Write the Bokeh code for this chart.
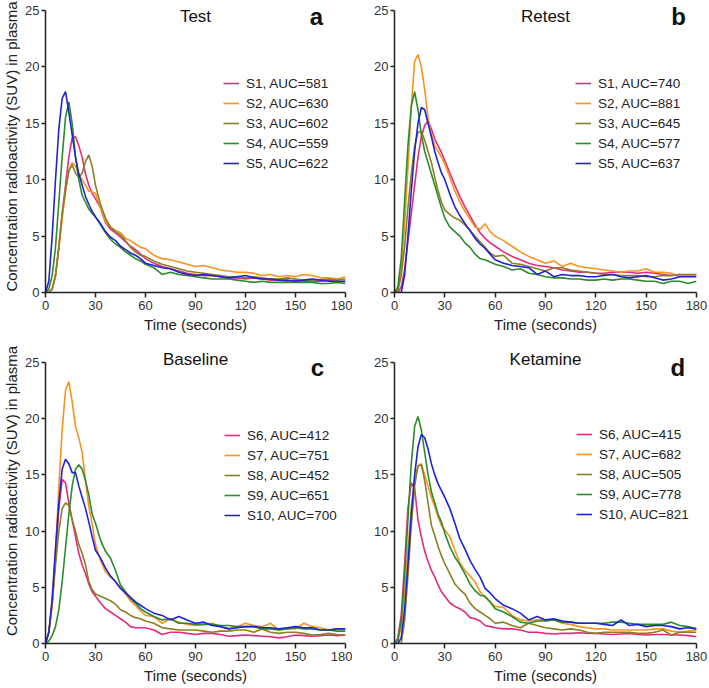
from bokeh.plotting import figure
from bokeh.layouts import column, row
from bokeh.models import Legend, LegendItem, Label, Range1d, FixedTicker
from bokeh.embed import file_html
from bokeh.resources import INLINE

# ---------------- data ----------------
time = [0, 2, 4, 6, 8, 10, 12, 14, 16, 18, 20, 22, 24, 26, 28, 30,
        33, 36, 39, 42, 45, 48, 51, 54, 57, 60,
        65, 70, 75, 80, 85, 90, 95, 100, 105, 110, 115, 120, 125, 130,
        135, 140, 145, 150, 155, 160, 165, 170, 175, 180]

x_ticks = [0, 30, 60, 90, 120, 150, 180]
y_ticks = [0, 5, 10, 15, 20, 25]

# Panel a: Test
test_names = ["S1", "S2", "S3", "S4", "S5"]
test_auc = [581, 630, 602, 559, 622]
test_s1 = [0, 0, 0.3, 1.5, 4, 7, 9.5, 12, 13.7, 13.8, 13, 12, 10.5, 9.5, 8.8, 8.3,
           7.5, 6.2, 5.6, 5.3, 4.9, 4.5, 4.1, 3.8, 3.4, 3.0,
           2.6, 2.3, 2.1, 1.9, 1.7, 1.6, 1.5, 1.5, 1.4, 1.3, 1.3, 1.2, 1.3, 1.2, 1.1, 1.1, 1.0, 1.1, 1.0, 1.0, 1.0, 1.1, 0.9, 1.0]
test_s2 = [0, 0, 0.3, 1.5, 4, 6.5, 9, 10.8, 11.5, 11.2, 10.5, 10, 9.5, 9, 8.9, 8.8,
           7.5, 6.3, 5.8, 5.5, 5.3, 4.8, 4.6, 4.3, 4.0, 3.9,
           3.3, 3.0, 2.9, 2.7, 2.5, 2.3, 2.4, 2.2, 2.0, 1.9, 1.8, 1.8, 1.7, 1.5, 1.6, 1.4, 1.5, 1.4, 1.6, 1.5, 1.3, 1.3, 1.2, 1.4]
test_s3 = [0, 0, 0.3, 1.5, 4, 7, 9, 10.8, 11.3, 10.6, 10.2, 10.6, 11.6, 12.2, 11.2, 9.5,
           7.8, 6.6, 5.8, 5.4, 5.1, 4.6, 4.0, 3.6, 3.3, 3.2,
           2.8, 2.5, 2.3, 2.1, 1.9, 1.8, 1.7, 1.6, 1.5, 1.4, 1.4, 1.3, 1.4, 1.3, 1.2, 1.2, 1.3, 1.2, 1.1, 1.1, 1.1, 1.2, 1.1, 1.2]
test_s4 = [0, 0.3, 1.5, 4, 8, 12, 15.5, 16.9, 15, 12, 10, 8.6, 8.0, 7.4, 7.0, 6.7,
           6.0, 5.3, 4.7, 4.3, 4.0, 3.6, 3.3, 3.0, 2.8, 2.5,
           2.2, 1.6, 1.8, 1.6, 1.5, 1.4, 1.3, 1.2, 1.2, 1.2, 1.1, 1.0, 0.9, 1.0, 0.9, 0.9, 0.9, 0.9, 0.9, 0.9, 0.8, 0.8, 0.9, 0.8]
test_s5 = [0, 1, 5, 10, 14.5, 17.2, 17.8, 16, 14, 12, 10.5, 9.5, 8.5, 7.8, 7.2, 6.7,
           6.1, 5.4, 4.9, 4.6, 4.1, 3.8, 3.5, 3.3, 3.0, 2.6,
           2.4, 2.2, 2.1, 1.8, 1.6, 1.5, 1.6, 1.5, 1.4, 1.3, 1.4, 1.5, 1.3, 1.2, 1.2, 1.1, 1.1, 1.0, 1.1, 1.2, 1.1, 1.0, 1.0, 1.0]

# Panel b: Retest
retest_names = ["S1", "S2", "S3", "S4", "S5"]
retest_auc = [740, 881, 645, 577, 637]
retest_s1 = [0, 0, 0.5, 2, 4.5, 7, 9.5, 12, 13.8, 14.8, 15.2, 14.5, 13.6, 13, 12.4, 11.7,
             10.6, 9.5, 8.5, 7.6, 6.8, 6.0, 5.3, 4.8, 4.4, 4.1,
             3.6, 3.2, 2.9, 2.6, 2.4, 2.3, 2.2, 2.0, 1.9, 1.8, 1.8, 1.7, 1.7, 1.8, 1.8, 1.8, 1.7, 1.8, 1.7, 1.6, 1.5, 1.6, 1.5, 1.6]
retest_s2 = [0, 0.2, 2, 6, 11, 16.5, 20.5, 21.1, 20, 18, 15.5, 14, 13, 12.5, 12, 11.4,
             10.2, 9, 8, 7.2, 6.5, 5.8, 5.6, 6.1, 5.4, 5.0,
             4.6, 4.1, 3.6, 3.2, 2.9, 2.6, 2.8, 2.3, 2.6, 2.3, 2.2, 2.1, 2.0, 1.9, 1.8, 1.9, 1.9, 2.1, 1.8, 1.8, 1.7, 1.4, 1.5, 1.6]
retest_s3 = [0, 0.2, 1.5, 4, 7.5, 10.5, 13, 14.2, 14.3, 13.5, 12.5, 11.5, 10.2, 9, 8, 7.3,
             6.9, 6.6, 6.4, 6.0, 5.5, 5.0, 4.5, 4.0, 3.5, 3.2,
             3.3, 2.6, 2.5, 2.3, 2.1, 1.9, 2.2, 2.2, 2.0, 1.9, 1.8, 1.7, 1.6, 1.6, 1.5, 1.5, 1.5, 1.4, 1.4, 1.5, 1.5, 1.6, 1.6, 1.6]
retest_s4 = [0, 0.5, 3, 8, 13, 16.5, 17.8, 16.2, 14, 12.5, 11.5, 10.5, 9.5, 8.5, 7.5, 6.6,
             5.8, 5.4, 5.0, 4.4, 4.0, 3.4, 3.0, 2.9, 2.7, 2.5,
             2.3, 2.0, 2.1, 1.7, 1.6, 1.4, 1.3, 1.3, 1.2, 1.2, 1.1, 1.1, 1.2, 1.1, 1.2, 1.2, 1.1, 1.0, 1.0, 0.8, 1.0, 1.0, 0.8, 1.0]
retest_s5 = [0, 0, 0, 1.5, 5, 9, 12.5, 15, 16.4, 16.2, 15, 13.8, 12.5, 11.5, 10.6, 10.0,
             8.7, 7.6, 6.8, 6.1, 5.5, 4.8, 4.3, 3.9, 3.4, 2.9,
             2.6, 2.4, 2.3, 2.2, 1.6, 1.9, 1.4, 1.6, 1.5, 1.5, 1.4, 1.4, 1.5, 1.6, 1.4, 1.3, 1.4, 1.5, 1.3, 1.1, 1.2, 1.4, 1.4, 1.4]

# Panel c: Baseline
baseline_names = ["S6", "S7", "S8", "S9", "S10"]
baseline_auc = [412, 751, 452, 651, 700]
baseline_s6 = [0, 1, 3.5, 7.5, 12, 14.6, 14.3, 12.5, 11, 9.5, 8, 7, 6.2, 5.3, 4.6, 4.2,
               3.6, 3.1, 2.8, 2.5, 2.2, 1.9, 1.5, 1.4, 1.4, 1.4,
               1.2, 0.8, 1.0, 1.0, 0.9, 0.8, 0.9, 0.9, 0.8, 0.65, 0.7, 0.75, 0.7, 0.65, 0.6, 0.5, 0.6, 0.75, 0.7, 0.65, 0.7, 0.75, 0.7, 0.75]
baseline_s7 = [0, 1, 3.5, 8, 14, 19, 22.5, 23.3, 21.5, 19.3, 18.3, 17, 14.5, 12.2, 10.6, 8.8,
               7.4, 6.4, 5.9, 5.5, 5.0, 4.4, 3.8, 3.4, 2.9, 2.5,
               2.4, 1.8, 2.2, 1.9, 1.7, 1.6, 1.7, 1.8, 1.5, 1.3, 1.5, 1.8, 1.6, 1.5, 1.8, 1.2, 1.3, 1.3, 1.8, 1.5, 1.4, 1.2, 1.3, 1.3]
baseline_s8 = [0, 1, 3.5, 7, 10, 12, 12.5, 12.3, 11, 10, 8.8, 8, 7, 5.5, 4.8, 4.4,
               4.2, 4.0, 3.8, 3.5, 3.0, 2.8, 2.5, 2.3, 2.2, 2.0,
               1.8, 1.4, 1.3, 1.2, 1.2, 1.2, 1.1, 1.0, 1.1, 1.1, 1.2, 1.2, 1.0, 1.3, 1.0, 0.9, 1.0, 1.0, 0.9, 0.75, 0.8, 0.9, 0.8, 0.75]
baseline_s9 = [0, 0.2, 0.7, 1.5, 3, 5.5, 8.5, 11.5, 14, 15.5, 15.9, 15.5, 14.5, 13.2, 11.5, 10.7,
               9.2, 8.2, 7.6, 6.5, 5.2, 4.6, 4.0, 3.6, 3.1, 2.8,
               2.4, 2.1, 2.2, 1.8, 1.8, 1.7, 1.7, 1.7, 1.6, 1.6, 1.5, 1.5, 1.5, 1.3, 1.3, 1.2, 1.3, 1.4, 1.3, 1.3, 1.2, 1.2, 1.1, 1.1]
baseline_s10 = [0, 1, 4, 8.5, 12.5, 15.5, 16.4, 16, 15.2, 15.2, 14, 13, 12, 10.8, 9.5, 8.3,
                7.6, 6.7, 6.0, 5.5, 4.9, 4.5, 4.1, 3.7, 3.4, 3.1,
                2.7, 2.5, 2.1, 2.4, 2.1, 1.8, 1.9, 1.6, 1.5, 1.3, 1.4, 1.5, 1.5, 1.4, 1.4, 1.3, 1.4, 1.5, 1.4, 1.4, 1.2, 1.2, 1.3, 1.3]

# Panel d: Ketamine
ketamine_names = ["S6", "S7", "S8", "S9", "S10"]
ketamine_auc = [415, 682, 505, 778, 821]
ketamine_s6 = [0, 0.5, 2.5, 7, 12, 14.3, 13.8, 11, 9.5, 8.2, 7.3, 6.5, 5.9, 5.2, 4.6, 4.2,
               3.6, 3.3, 3.1, 2.8, 2.3, 2.2, 2.0, 1.6, 1.5, 1.4,
               1.3, 1.3, 1.2, 1.0, 1.0, 0.9, 0.85, 0.9, 0.9, 0.95, 0.9, 0.9, 0.85, 0.8, 0.85, 0.9, 0.8, 0.75, 0.8, 0.8, 0.75, 0.75, 0.7, 0.6]
ketamine_s7 = [0, 0.3, 1.5, 4.5, 8.5, 12, 14.5, 15.8, 16, 15, 14, 13, 12.2, 11.2, 10.5, 10.1,
               9.5, 8.3, 7.2, 6.5, 6.0, 5.5, 4.6, 4.1, 3.7, 3.3,
               3.2, 2.5, 2.1, 2.0, 2.1, 2.1, 2.1, 1.8, 1.7, 1.5, 1.4, 1.3, 1.3, 1.2, 1.2, 1.2, 1.2, 1.2, 1.3, 1.3, 1.1, 1.0, 1.1, 1.2]
ketamine_s8 = [0, 0, 0, 2, 6, 10.5, 14, 15.8, 15.9, 14.5, 12.5, 10.5, 9.6, 8.6, 7.8, 7.1,
               6.2, 5.3, 4.8, 4.4, 3.6, 3.1, 2.8, 2.5, 2.2, 1.8,
               1.9, 1.6, 1.4, 1.8, 1.6, 1.4, 1.3, 1.2, 1.3, 1.2, 1.0, 0.9, 1.0, 1.0, 1.0, 1.0, 0.9, 0.9, 1.0, 1.2, 0.75, 1.0, 1.0, 1.0]
ketamine_s9 = [0, 0.3, 2, 6, 11, 16, 19.3, 20.2, 19, 17, 15, 13.5, 12.5, 11.5, 10.8, 9.8,
               8.6, 7.7, 7.0, 6.2, 5.3, 4.7, 4.3, 4.2, 3.7, 3.1,
               2.8, 2.4, 1.9, 1.8, 2.0, 2.0, 2.1, 1.9, 1.9, 1.8, 1.8, 1.8, 1.8, 1.9, 1.9, 1.8, 1.7, 1.7, 1.7, 1.7, 1.9, 1.6, 1.5, 1.3]
ketamine_s10 = [0, 0, 0.5, 3, 7, 11.5, 15, 17.5, 18.6, 18.3, 17.3, 16, 15, 14.2, 13.6, 13.0,
                12, 10.7, 9.3, 8.4, 7.4, 6.6, 5.9, 4.9, 4.5, 4.0,
                3.4, 3.1, 2.7, 2.1, 2.4, 2.1, 2.2, 2.0, 1.9, 1.8, 1.8, 1.8, 1.7, 1.6, 2.1, 1.6, 1.7, 1.5, 1.6, 1.6, 1.5, 1.3, 1.4, 1.3]

# ---------------- styling ----------------
COLORS = ["#e62a7e", "#f7931f", "#8a7f22", "#2b8c2b", "#1f22d6"]
FONT = "Liberation Sans"
YLABEL = "Concentration radioactivity (SUV) in plasma"
XLABEL = "Time (seconds)"


def make_panel(series, names, aucs, title, letter, is_left, is_top, legend_xy, letter_x):
    width = 352 if is_left else 357
    b_left = 42
    b_right = 7 if is_left else 13
    if is_top:
        height, frame_h, gap = 338, 292, 10   # gap: px between frame top and the 25 tick
    else:
        height, frame_h, gap = 350, 305, 24
    b_bottom = height - frame_h
    px_unit = (frame_h - gap) / 25.0
    y_end = 25 + gap / px_unit

    p = figure(width=width, height=height, output_backend="svg", toolbar_location=None,
               x_range=Range1d(0, 180), y_range=Range1d(0, y_end),
               min_border_left=b_left, min_border_right=b_right,
               min_border_top=0, min_border_bottom=b_bottom)
    p.outline_line_color = None
    p.grid.visible = False
    p.background_fill_color = "white"
    p.border_fill_color = "white"

    for ax in (p.xaxis[0], p.yaxis[0]):
        ax.axis_line_color = "#222222"
        ax.axis_line_width = 1.5
        ax.major_tick_line_color = "#222222"
        ax.major_tick_line_width = 1.5
        ax.major_tick_in = 0
        ax.minor_tick_line_color = None
        ax.major_label_text_font = FONT
        ax.major_label_text_color = "#333333"
        ax.major_label_text_font_size = "13px"
        ax.axis_label_text_font = FONT
        ax.axis_label_text_font_style = "normal"
        ax.axis_label_text_color = "#222222"

    p.xaxis.ticker = FixedTicker(ticks=x_ticks)
    p.yaxis.ticker = FixedTicker(ticks=y_ticks)
    p.xaxis.bounds = (0, 180)
    p.yaxis.bounds = (0, 25)
    p.xaxis.major_tick_out = 5
    p.xaxis.major_label_standoff = 3
    p.yaxis.major_tick_out = 4
    p.yaxis.major_label_standoff = 2
    p.xaxis.axis_label = XLABEL
    p.xaxis.axis_label_text_font_size = "15px"
    p.xaxis.axis_label_standoff = 3
    if is_left:
        p.yaxis.axis_label = YLABEL
        p.yaxis.axis_label_text_font_size = "15px"
        p.yaxis.axis_label_standoff = 2

    items = []
    for s, n, a, c in zip(series, names, aucs, COLORS):
        r = p.line(time, s, line_color=c, line_width=1.6)
        items.append(LegendItem(label=f"{n}, AUC={a}", renderers=[r]))

    leg = Legend(items=items, location=legend_xy, border_line_alpha=0,
                 background_fill_alpha=0, padding=0, margin=0, spacing=0,
                 glyph_width=16, glyph_height=20, label_height=20,
                 label_standoff=7, label_text_font=FONT,
                 label_text_font_size="13.5px", label_text_color="#222222")
    p.add_layout(leg, "center")

    # panel title and panel letter
    title_y = 25 - 6 / px_unit if is_top else 25 + 3 / px_unit
    p.add_layout(Label(x=90, y=title_y, text=title, text_align="center",
                       text_baseline="alphabetic", text_font=FONT, text_font_size="17px",
                       text_color="#111111"))
    letter_y = 25 - (6 if is_top else 5) / px_unit
    p.add_layout(Label(x=letter_x, y=letter_y, text=letter, text_align="left",
                       text_baseline="alphabetic", text_font=FONT, text_font_size="24px",
                       text_font_style="bold", text_color="#111111"))
    return p


pa = make_panel([test_s1, test_s2, test_s3, test_s4, test_s5], test_names, test_auc,
                "Test", "a", True, True, (178, 119), 158.6)
pb = make_panel([retest_s1, retest_s2, retest_s3, retest_s4, retest_s5], retest_names, retest_auc,
                "Retest", "b", False, True, (181, 119), 165)
pc = make_panel([baseline_s6, baseline_s7, baseline_s8, baseline_s9, baseline_s10], baseline_names,
                baseline_auc, "Baseline", "c", True, False, (179, 118), 159.2)
pd_ = make_panel([ketamine_s6, ketamine_s7, ketamine_s8, ketamine_s9, ketamine_s10], ketamine_names,
                 ketamine_auc, "Ketamine", "d", False, False, (182, 119), 164.5)

layout = column(row(pa, pb, spacing=0), row(pc, pd_, spacing=0), spacing=0)

open("out.html", "w").write(file_html(layout, INLINE))
